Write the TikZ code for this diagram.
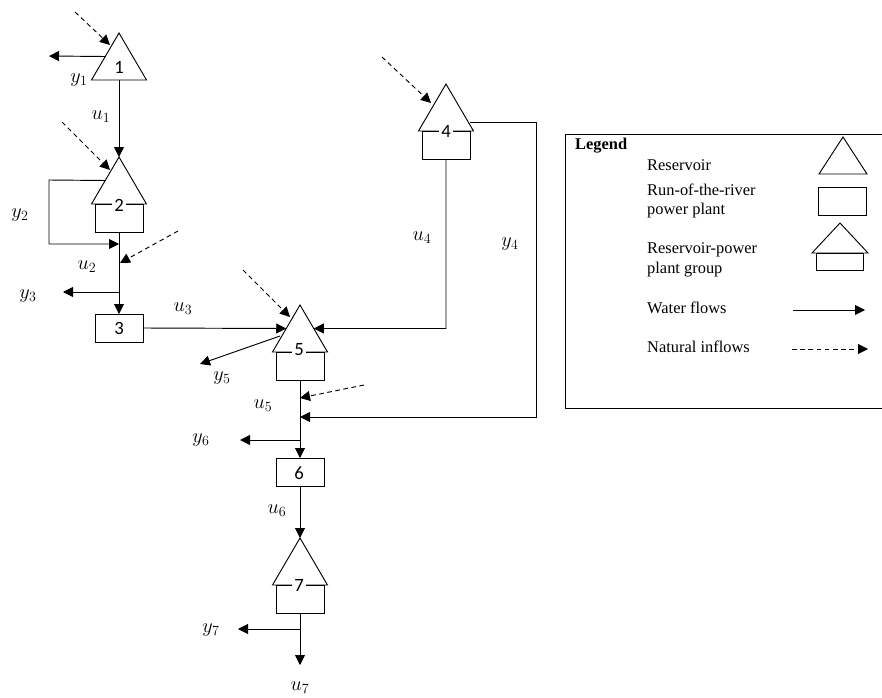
\documentclass[tikz,border=0pt]{standalone}
\usepackage{amsmath}
\usepackage{fontspec}
\setmainfont{Liberation Serif}
\setsansfont{Carlito}
\usetikzlibrary{arrows.meta}
\usetikzlibrary{shapes.geometric}

\tikzset{
	reservoir/.style={draw, line width=0.8pt, isosceles triangle, isosceles triangle stretches, shape border rotate=90, minimum width=1.65cm, minimum height=1.41cm, inner sep=0pt, outer sep=0pt, anchor=apex},
	plantbox/.style={draw, line width=0.8pt, rectangle, minimum width=1.44cm, minimum height=0.84cm, inner sep=0pt, outer sep=0pt},
	number/.style={font=\sffamily\fontsize{16}{18}\selectfont, fill=white, inner sep=1.5pt},
	symbol/.style={font=\fontsize{17.28}{20}\selectfont, inner sep=0pt},
	legendtext/.style={font=\fontsize{14}{17}\selectfont, inner sep=0pt, anchor=west},
	flow/.style={draw, line width=0.8pt, -{Triangle[length=3mm,width=3mm]}},
	inflow/.style={flow, dash pattern=on 4pt off 3pt}
}

\begin{document}
\begin{tikzpicture}[x=0.03cm, y=-0.03cm]
	\useasboundingbox (0,0) rectangle (882,698);

	% reservoirs and plants
	\node[reservoir] (res1) at (119,33) {};
	\node[reservoir] (res2) at (119,157) {};
	\node[plantbox, anchor=north] (box2) at (res2.lower side) {};
	\node[plantbox] (box3) at (119,328) {};
	\node[reservoir] (res4) at (446,84) {};
	\node[plantbox, anchor=north] (box4) at (res4.lower side) {};
	\node[reservoir] (res5) at (300,305) {};
	\node[plantbox, anchor=north] (box5) at (res5.lower side) {};
	\node[plantbox] (box6) at (300,472) {};
	\node[reservoir] (res7) at (300,538) {};
	\node[plantbox, anchor=north] (box7) at (res7.lower side) {};

	\node[number] (num1) at (119,67) {1};
	\node[number] (num2) at (119,205) {2};
	\node[number] (num3) at (119,328) {3};
	\node[number] (num4) at (446,131) {4};
	\node[number] (num5) at (299,350) {5};
	\node[number] (num6) at (299,473) {6};
	\node[number] (num7) at (299,585) {7};

	% free ends of the connectors
	\coordinate (out1) at (49,56);
	\coordinate (src1) at (75,12);
	\coordinate (in1) at (110,45);
	\coordinate (src2) at (62,122);
	\coordinate (in2) at (110,170);
	\coordinate (corner2a) at (49,180);
	\coordinate (corner2b) at (49,244);
	\coordinate (join2) at (119,244);
	\coordinate (src3) at (178,231);
	\coordinate (in3) at (120,263);
	\coordinate (tap3) at (119,292);
	\coordinate (out3) at (63,292);
	\coordinate (src4) at (382,57);
	\coordinate (in4) at (431,103);
	\coordinate (corner4a) at (446,328.5);
	\coordinate (start4) at (470,122);
	\coordinate (corner4b) at (536,122);
	\coordinate (corner4c) at (536,417);
	\coordinate (join4) at (300,417);
	\coordinate (src5) at (243,270);
	\coordinate (in5) at (290,317);
	\coordinate (start5) at (280,336);
	\coordinate (out5) at (200,364);
	\coordinate (src6) at (364,385);
	\coordinate (in6) at (300,398);
	\coordinate (tap6) at (300,440);
	\coordinate (out6) at (240,440);
	\coordinate (tap7) at (300,629);
	\coordinate (out7) at (238,629);
	\coordinate (end7) at (300,665);

	% water flows
	\draw[flow] (res1.left side) -- (out1);
	\draw[flow] (res1.lower side) -- (res2.apex);
	\draw[flow] (res2.left side) -- (corner2a) -- (corner2b) -- (join2);
	\draw[flow] (box2.south) -- (box3.north);
	\draw[flow] (tap3) -- (out3);
	\draw[flow] (box3.east) -- (res5.left side);
	\draw[flow] (box4.south) -- (corner4a) -- (res5.right side);
	\draw[flow] (start4) -- (corner4b) -- (corner4c) -- (join4);
	\draw[flow] (start5) -- (out5);
	\draw[flow] (box5.south) -- (box6.north);
	\draw[flow] (tap6) -- (out6);
	\draw[flow] (box6.south) -- (res7.apex);
	\draw[flow] (box7.south) -- (end7);
	\draw[flow] (tap7) -- (out7);

	% natural inflows
	\draw[inflow] (src1) -- (in1);
	\draw[inflow] (src2) -- (in2);
	\draw[inflow] (src3) -- (in3);
	\draw[inflow] (src4) -- (in4);
	\draw[inflow] (src5) -- (in5);
	\draw[inflow] (src6) -- (in6);

	% flow labels
	\node[symbol] (laby1) at (79,80) {$y_1$};
	\node[symbol] (labu1) at (101,117) {$u_1$};
	\node[symbol] (laby2) at (20,215) {$y_2$};
	\node[symbol] (labu2) at (87,267) {$u_2$};
	\node[symbol] (laby3) at (28,296) {$y_3$};
	\node[symbol] (labu3) at (183,309) {$u_3$};
	\node[symbol] (labu4) at (422,238) {$u_4$};
	\node[symbol] (laby4) at (510,244) {$y_4$};
	\node[symbol] (laby5) at (222,378) {$y_5$};
	\begin{scope}
		\clip (245,392) rectangle (285,411);
		\node[symbol] (labu5) at (263,406) {$u_5$};
	\end{scope}
	\node[symbol] (laby6) at (201,440) {$y_6$};
	\node[symbol] (labu6) at (277,511) {$u_6$};
	\node[symbol] (laby7) at (211,630) {$y_7$};
	\node[symbol] (labu7) at (300,688) {$u_7$};

	% legend
	\coordinate (legA) at (882,134);
	\coordinate (legB) at (565,134);
	\coordinate (legC) at (565,408);
	\coordinate (legD) at (882,408);
	\draw[line width=0.8pt] (legA) -- (legB) -- (legC) -- (legD);
	\node[legendtext, font=\bfseries\fontsize{14}{17}\selectfont] (legtitle) at (575,146) {Legend};
	\node[legendtext] (legres) at (647,165) {Reservoir};
	\node[legendtext, align=left] (legplant) at (647,201) {Run-of-the-river\\power plant};
	\node[legendtext, align=left] (leggroup) at (647,260) {Reservoir-power\\plant group};
	\node[legendtext] (legwater) at (647,308) {Water flows};
	\node[legendtext] (leginflow) at (647,347) {Natural inflows};

	\node[reservoir, minimum width=1.44cm, minimum height=1.11cm] (symres) at (843,137) {};
	\node[plantbox] (symbox) at (842,201) {};
	\node[reservoir, minimum width=1.68cm, minimum height=0.9cm] (symgroup) at (840,223) {};
	\node[plantbox, anchor=north, minimum width=1.41cm, minimum height=0.51cm] (symgroupbox) at (symgroup.lower side) {};

	\coordinate (watA) at (793,310);
	\coordinate (watB) at (865,310);
	\coordinate (natA) at (792,349);
	\coordinate (natB) at (868,349);
	\draw[flow] (watA) -- (watB);
	\draw[inflow] (natA) -- (natB);
\end{tikzpicture}
\end{document}
